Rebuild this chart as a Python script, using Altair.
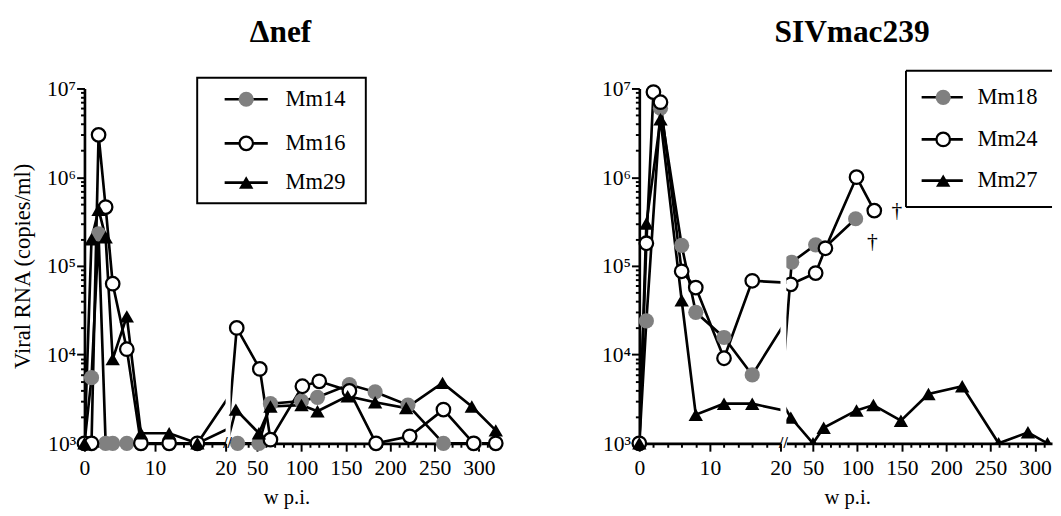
import altair as alt
import pandas as pd

# ---------------- data (weeks p.i. / viral RNA copies per ml) ----------------
# Δnef panel
mm14_weeks = [0, 1, 2, 3, 4, 6, 8, 12, 16, 28, 52, 65, 100, 118, 154, 183, 220, 260, 295]
mm14_rna = [1e3, 5.5e3, 2.3e5, 1e3, 1e3, 1e3, 1e3, 1e3, 1e3, 1e3, 1e3, 2.8e3, 3.0e3, 3.3e3, 4.6e3, 3.8e3, 2.7e3, 1e3, 1e3]

mm16_weeks = [0, 1, 2, 3, 4, 6, 8, 12, 16, 27, 53, 65, 101, 120, 154, 184, 222, 260, 294, 319]
mm16_rna = [1e3, 1e3, 3.0e6, 4.6e5, 6.3e4, 1.15e4, 1e3, 1e3, 1e3, 2.0e4, 6.9e3, 1.1e3, 4.4e3, 5.0e3, 3.9e3, 1e3, 1.2e3, 2.4e3, 1e3, 1e3]

mm29_weeks = [0, 1, 2, 3, 4, 6, 8, 12, 16, 26, 52, 65, 100, 118, 152, 183, 218, 259, 292, 319]
mm29_rna = [1e3, 2e5, 4.3e5, 2.1e5, 8.9e3, 2.7e4, 1.3e3, 1.3e3, 1e3, 2.4e3, 1.3e3, 2.6e3, 2.7e3, 2.3e3, 3.4e3, 2.9e3, 2.5e3, 4.8e3, 2.6e3, 1.4e3]

# SIVmac239 panel
mm18_weeks = [0, 1, 3, 6, 8, 12, 16, 26, 53, 63, 98]
mm18_rna = [1e3, 2.4e4, 6.0e6, 1.7e5, 3.0e4, 1.56e4, 5.9e3, 1.1e5, 1.73e5, 1.6e5, 3.4e5]

mm24_weeks = [0, 1, 2, 3, 6, 8, 12, 16, 25, 53, 64, 99, 119]
mm24_rna = [1e3, 1.8e5, 9.1e6, 7.0e6, 8.7e4, 5.7e4, 9.1e3, 6.8e4, 6.2e4, 8.3e4, 1.58e5, 1.0e6, 4.2e5]

mm27_weeks = [0, 1, 3, 6, 8, 12, 16, 25, 50, 62, 99, 118, 149, 180, 218, 259, 292, 314]
mm27_rna = [1e3, 3e5, 4.5e6, 4.1e4, 2.1e3, 2.8e3, 2.8e3, 1.95e3, 1e3, 1.5e3, 2.35e3, 2.7e3, 1.8e3, 3.6e3, 4.4e3, 1e3, 1.33e3, 1e3]

panel_titles = ["\u0394nef", "SIVmac239"]
legend_left = ["Mm14", "Mm16", "Mm29"]
legend_right = ["Mm18", "Mm24", "Mm27"]

# ---------------- styling / layout ----------------
SERIF = "Liberation Serif"
GRAY = "#808080"
H = 362
W1 = 144
W2L = 276
W2R = 271
LW = 2.7

y_vals = [m * 10 ** n for n in range(3, 7) for m in range(1, 10)] + [1e7]
sup = {3: "\u00b3", 4: "\u2074", 5: "\u2075", 6: "\u2076", 7: "\u2077"}
y_label_expr = " : ".join(
    f"datum.value == {int(10 ** n)} ? '10{sup[n]}'" for n in range(3, 8)
) + " : ''"
y_major_test = "indexof([1000,10000,100000,1000000,10000000], datum.value) >= 0"

yscale = alt.Scale(type="log", domain=[1e3, 1e7], nice=False)


def y_axis(title=None):
    kw = dict(
        values=y_vals,
        labelExpr=y_label_expr,
        labelOverlap=False,
        tickSize={"condition": {"test": y_major_test, "value": 8}, "value": 4},
        labelPadding=1,
        labelFont=SERIF,
        labelFontSize=22,
    )
    if title:
        kw.update(title=title, titlePadding=12, titleFontSize=23, titleFont=SERIF)
    else:
        kw.update(title=None)
    return alt.Axis(**kw)


def x_axis_seg1():
    return alt.Axis(
        values=list(range(0, 21, 2)),
        labelExpr="datum.value % 10 == 0 ? datum.label : ''",
        labelOverlap=False,
        tickSize={"condition": {"test": "datum.value % 10 == 0", "value": 8}, "value": 4},
        title=None,
        labelPadding=7,
        labelFont=SERIF,
        labelFontSize=22,
        labelFlush=False,
    )


def x_axis_seg2(title_x):
    return alt.Axis(
        values=list(range(30, 321, 10)),
        labelExpr="datum.value % 50 == 0 ? datum.label : ''",
        labelOverlap=False,
        tickSize={"condition": {"test": "datum.value % 50 == 0", "value": 8}, "value": 4},
        title="w p.i.",
        titleX=title_x,
        titleFont=SERIF,
        titleFontSize=21,
        titlePadding=8,
        labelPadding=7,
        labelFont=SERIF,
        labelFontSize=22,
        labelFlush=False,
    )


def frame(weeks, rna, name):
    return pd.DataFrame({"week": weeks, "rna": rna, "animal": name})


STYLES = {
    "gray": dict(shape="circle", filled=True, color=GRAY, size=240, opacity=1),
    "open": dict(shape="circle", filled=True, fill="white", stroke="black", strokeWidth=2.3, size=190, opacity=1),
    "tri": dict(shape="triangle-up", filled=True, color="black", size=215, opacity=1),
}


def segment(series, lo, hi, width, xaxis, yaxis, extra=(), clip_points=False):
    X = alt.X("week:Q", scale=alt.Scale(domain=[lo, hi], nice=False, zero=False), axis=xaxis)
    Y = alt.Y("rna:Q", scale=yscale, axis=yaxis)
    layers = []
    for df, style in series:
        layers.append(
            alt.Chart(df).mark_line(color="black", strokeWidth=LW, clip=True).encode(x=X, y=Y, order="week:Q")
        )
    for df, style in series:
        sub = df[(df.week >= lo) & (df.week <= hi)]
        layers.append(alt.Chart(sub).mark_point(clip=clip_points, **STYLES[style]).encode(x=X, y=Y))
    layers.extend(extra)
    return alt.layer(*layers).properties(width=width, height=H)


one = pd.DataFrame({"k": [0]})


def legend_layers(names, styles, box, line_x, marker_x, text_x, rows, open_right=False):
    x0, x1, y0, y1 = box
    out = [
        alt.Chart(one).mark_rect(fill="white", stroke=None if open_right else "black",
                                 strokeWidth=2).encode(
            x=alt.value(x0), x2=alt.value(x1), y=alt.value(y0), y2=alt.value(y1))
    ]
    if open_right:
        for (a, b, c, d) in [(x0, x1, y0, y0), (x0, x1, y1, y1), (x0, x0, y0, y1)]:
            out.append(alt.Chart(one).mark_rule(color="black", strokeWidth=2).encode(
                x=alt.value(a), x2=alt.value(b), y=alt.value(c), y2=alt.value(d)))
    for name, style, ry in zip(names, styles, rows):
        out.append(alt.Chart(one).mark_rule(color="black", strokeWidth=LW).encode(
            x=alt.value(line_x[0]), x2=alt.value(line_x[1]), y=alt.value(ry)))
        out.append(alt.Chart(one).mark_point(**STYLES[style]).encode(
            x=alt.value(marker_x), y=alt.value(ry)))
        out.append(alt.Chart(one).mark_text(text=name, align="left", baseline="middle",
                                            font=SERIF, fontSize=23, color="black").encode(
            x=alt.value(text_x), y=alt.value(ry)))
    return out


def break_mark():
    return alt.Chart(one).mark_text(text="//", font=SERIF, fontSize=16, fontWeight="bold",
                                    color="black", align="center", baseline="middle").encode(
        x=alt.value(-3), y=alt.value(H))


def panel_title(text, cx):
    return alt.Chart(one).mark_text(text=text, font=SERIF, fontSize=32, fontWeight="bold",
                                    color="black", align="center", baseline="middle").encode(
        x=alt.value(cx), y=alt.value(-57))


# ---------------- Δnef panel ----------------
s14 = frame(mm14_weeks, mm14_rna, "Mm14")
s16 = frame(mm16_weeks, mm16_rna, "Mm16")
s29 = frame(mm29_weeks, mm29_rna, "Mm29")
left_series = [(s14, "gray"), (s16, "open"), (s29, "tri")]

L1 = segment(left_series, 0, 20, W1, x_axis_seg1(), y_axis("Viral RNA (copies/ml)"))
L2 = segment(
    left_series, 20, 325, W2L, x_axis_seg2(57), None,
    extra=[break_mark(), panel_title(panel_titles[0], 51)] + legend_layers(
        legend_left, ["gray", "open", "tri"], box=(-34, 138, -11, 117),
        line_x=(-6, 38), marker_x=16, text_x=56, rows=[11, 56, 96]),
)
left_panel = alt.hconcat(L1, L2, spacing=5, bounds="flush")

# ---------------- SIVmac239 panel ----------------
s18 = frame(mm18_weeks, mm18_rna, "Mm18")
s24 = frame(mm24_weeks, mm24_rna, "Mm24")
s27 = frame(mm27_weeks, mm27_rna, "Mm27")
right_series = [(s18, "gray"), (s24, "open"), (s27, "tri")]

R_HI = 20 + W2R / 0.906
XR = alt.X("week:Q", scale=alt.Scale(domain=[20, R_HI], nice=False, zero=False), axis=x_axis_seg2(62))
YR = alt.Y("rna:Q", scale=yscale, axis=None)
dag18 = alt.Chart(s18.iloc[[-1]]).mark_text(text="\u2020", font=SERIF, fontSize=22, color="black",
                                            dx=17, dy=23).encode(x=XR, y=YR)
dag24 = alt.Chart(s24.iloc[[-1]]).mark_text(text="\u2020", font=SERIF, fontSize=22, color="black",
                                            dx=23, dy=0).encode(x=XR, y=YR)

R1 = segment(right_series, 0, 20, W1, x_axis_seg1(), y_axis(None))
R2 = segment(
    right_series, 20, R_HI, W2R, x_axis_seg2(62), None,
    extra=[break_mark(), dag18, dag24, panel_title(panel_titles[1], 67)] + legend_layers(
        legend_right, ["gray", "open", "tri"], box=(122, W2R, -18, 121),
        line_x=(138, 180), marker_x=160, text_x=195, rows=[9, 52, 94], open_right=True),
    clip_points=True,
)
right_panel = alt.hconcat(R1, R2, spacing=6, bounds="flush")

chart = (
    alt.hconcat(left_panel, right_panel, spacing=95)
    .configure(font=SERIF, padding={"left": 4, "top": 4, "right": 0, "bottom": 2})
    .configure_view(stroke=None)
    .configure_axis(
        domainColor="black", domainWidth=LW, tickColor="black", tickWidth=2,
        labelFont=SERIF, labelFontSize=22, labelColor="black",
        titleFont=SERIF, titleFontSize=23, titleFontWeight="normal", titleColor="black",
        grid=False,
    )
)

chart.save("out.html", embed_options={"renderer": "svg", "actions": False})
